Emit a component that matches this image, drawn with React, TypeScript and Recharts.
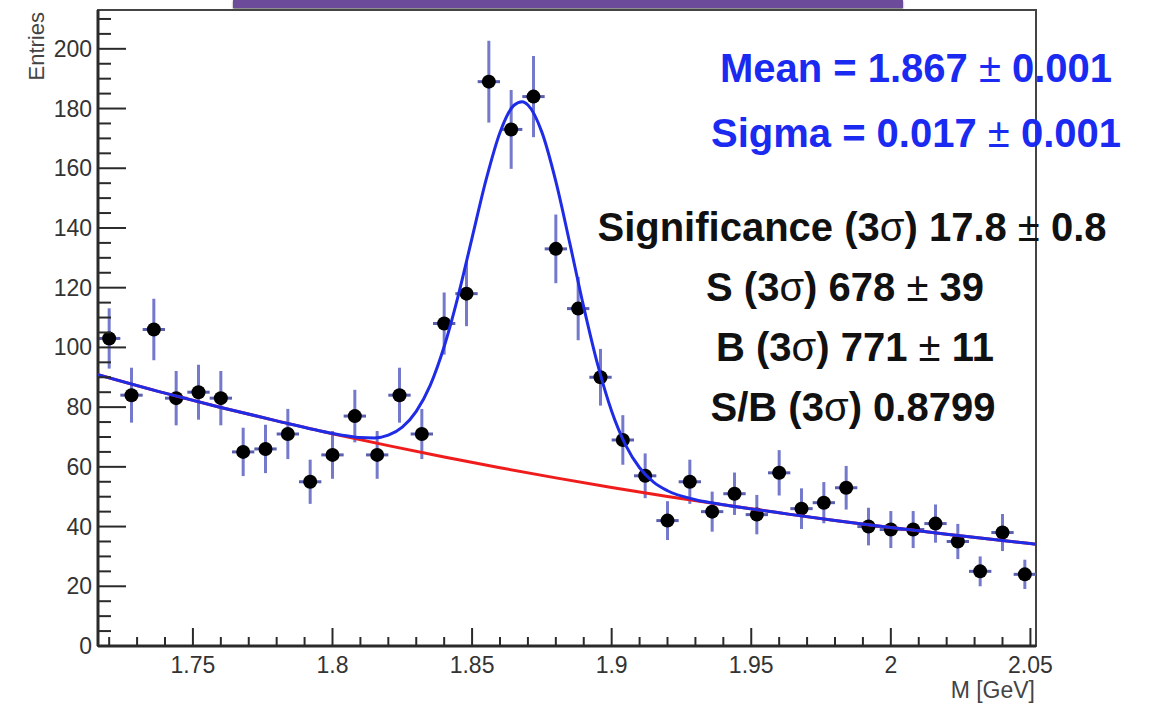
import React from "react"
import { ComposedChart, Scatter, ErrorBar, XAxis, YAxis, ReferenceArea } from "recharts"

// histogram bins (bin centres, GeV) and counts
const massBins = [1.72, 1.728, 1.736, 1.744, 1.752, 1.76, 1.768, 1.776, 1.784, 1.792, 1.8, 1.808, 1.816, 1.824, 1.832, 1.84, 1.848, 1.856, 1.864, 1.872, 1.88, 1.888, 1.896, 1.904, 1.912, 1.92, 1.928, 1.936, 1.944, 1.952, 1.96, 1.968, 1.976, 1.984, 1.992, 2.0, 2.008, 2.016, 2.024, 2.032, 2.04, 2.048]
const entries = [103, 84, 106, 83, 85, 83, 65, 66, 71, 55, 64, 77, 64, 84, 71, 108, 118, 189, 173, 184, 133, 113, 90, 69, 57, 42, 55, 45, 51, 44, 58, 46, 48, 53, 40, 39, 39, 41, 35, 25, 38, 24]
const entryErrors = [10.1, 9.2, 10.3, 9.1, 9.2, 9.1, 8.1, 8.1, 8.4, 7.4, 8.0, 8.8, 8.0, 9.2, 8.4, 10.4, 10.9, 13.7, 13.2, 13.6, 11.5, 10.6, 9.5, 8.3, 7.5, 6.5, 7.4, 6.7, 7.1, 6.6, 7.6, 6.8, 6.9, 7.3, 6.3, 6.2, 6.2, 6.4, 5.9, 5.0, 6.2, 4.9]
const binHalfWidth = 0.004

// total fit (signal + background), blue
const fitMass = [1.716, 1.74, 1.76, 1.78, 1.8, 1.805, 1.81, 1.815, 1.82, 1.825, 1.83, 1.835, 1.84, 1.845, 1.85, 1.855, 1.86, 1.865, 1.868, 1.87, 1.875, 1.88, 1.885, 1.89, 1.895, 1.9, 1.905, 1.91, 1.915, 1.92, 1.93, 1.94, 1.96, 1.98, 2.0, 2.02, 2.04, 2.052]
const fitTotal = [90.9, 84.7, 79.9, 75.4, 71.2, 70.4, 69.8, 69.7, 70.6, 73.3, 78.6, 87.3, 100.3, 117.2, 136.7, 156.1, 172.0, 181.1, 182.3, 181.2, 172.1, 155.6, 134.9, 113.5, 94.2, 78.6, 67.3, 59.7, 54.9, 52.0, 49.0, 47.3, 44.6, 42.0, 39.7, 37.4, 35.3, 34.1]

// background only, red
const bgMass = [1.716, 1.74, 1.76, 1.78, 1.8, 1.82, 1.84, 1.86, 1.88, 1.9, 1.92, 1.94, 1.96, 1.98, 2.0, 2.02, 2.04, 2.052]
const bgFit = [90.9, 84.7, 79.9, 75.4, 71.1, 67.1, 63.3, 59.7, 56.3, 53.1, 50.1, 47.3, 44.6, 42.0, 39.7, 37.4, 35.3, 34.1]

const xTicks = [1.72, 1.73, 1.74, 1.75, 1.76, 1.77, 1.78, 1.79, 1.8, 1.81, 1.82, 1.83, 1.84, 1.85, 1.86, 1.87, 1.88, 1.89, 1.9, 1.91, 1.92, 1.93, 1.94, 1.95, 1.96, 1.97, 1.98, 1.99, 2.0, 2.01, 2.02, 2.03, 2.04, 2.05]
const yTicks = [0, 5, 10, 15, 20, 25, 30, 35, 40, 45, 50, 55, 60, 65, 70, 75, 80, 85, 90, 95, 100, 105, 110, 115, 120, 125, 130, 135, 140, 145, 150, 155, 160, 165, 170, 175, 180, 185, 190, 195, 200, 205, 210]

const X_DOMAIN: [number, number] = [1.716, 2.052]
const Y_DOMAIN: [number, number] = [0, 213]

const points = massBins.map((m, i) => ({ m, n: entries[i], err: entryErrors[i], xerr: binHalfWidth }))
const totalCurve = fitMass.map((m, i) => ({ m, n: fitTotal[i] }))
const bgCurve = bgMass.map((m, i) => ({ m, n: bgFit[i] }))

const FONT = '"Liberation Sans", Arial, Helvetica, sans-serif'
const AXIS = "#2a2a2a"

function XTick(props: any) {
  const { x, y, payload } = props
  const v = payload.value
  const major = Math.abs(v * 20 - Math.round(v * 20)) < 1e-6
  return (
    <g>
      <line x1={x} x2={x} y1={y} y2={y - (major ? 18 : 9)} stroke={AXIS} strokeWidth={2} />
      {major && (
        <text x={x} y={y + 27} textAnchor="middle" fontSize={23} fill="#333" fontFamily={FONT}>
          {String(v)}
        </text>
      )}
    </g>
  )
}

function YTick(props: any) {
  const { x, y, payload } = props
  const v = payload.value
  const major = v % 20 === 0
  return (
    <g>
      <line x1={x} x2={x + (major ? 28 : 13)} y1={y} y2={y} stroke={AXIS} strokeWidth={2} />
      {major && (
        <text x={x - 6} y={y + 8} textAnchor="end" fontSize={23} fill="#333" fontFamily={FONT}>
          {v}
        </text>
      )}
    </g>
  )
}

const Marker = (props: any) => <circle cx={props.cx} cy={props.cy} r={7} fill="#000" />
const NoMarker = () => <g />

export default function App() {
  return (
    <div style={{ position: "fixed", left: 0, top: 0, width: 1154, height: 703, background: "#fff", fontFamily: FONT }}>
      <div style={{ position: "absolute", left: 233, top: 0, width: 670, height: 8, background: "#6c4b9b", boxShadow: "0 1px 2px rgba(0,0,0,0.6)" }} />
      <ComposedChart width={1154} height={703} margin={{ top: 10, right: 118, bottom: 27, left: 38 }}>
        <XAxis
          dataKey="m"
          type="number"
          domain={X_DOMAIN}
          allowDataOverflow
          ticks={xTicks}
          interval={0}
          tickSize={0}
          tickMargin={0}
          tickLine={false}
          tick={<XTick />}
          axisLine={{ stroke: AXIS, strokeWidth: 3 }}
          height={30}
        />
        <YAxis
          dataKey="n"
          type="number"
          domain={Y_DOMAIN}
          allowDataOverflow
          ticks={yTicks}
          interval={0}
          tickSize={0}
          tickMargin={0}
          tickLine={false}
          tick={<YTick />}
          axisLine={{ stroke: AXIS, strokeWidth: 3 }}
          width={60}
        />
        <ReferenceArea x1={X_DOMAIN[0]} x2={X_DOMAIN[1]} y1={Y_DOMAIN[0]} y2={Y_DOMAIN[1]} fill="none" stroke="#444" strokeWidth={2} />
        <Scatter data={points} dataKey="n" shape={Marker} isAnimationActive={false}>
          <ErrorBar dataKey="err" direction="y" width={0} stroke="#7479cc" strokeWidth={3} />
          <ErrorBar dataKey="xerr" direction="x" width={0} stroke="#5a5fb0" strokeWidth={3} />
        </Scatter>
        <Scatter data={bgCurve} dataKey="n" line={{ stroke: "#f01c1c", strokeWidth: 3 }} lineJointType="monotoneX" shape={NoMarker} isAnimationActive={false} />
        <Scatter data={totalCurve} dataKey="n" line={{ stroke: "#1f2ce6", strokeWidth: 3 }} lineJointType="monotoneX" shape={NoMarker} isAnimationActive={false} />
      </ComposedChart>
      <svg width={1154} height={703} style={{ position: "absolute", left: 0, top: 0, pointerEvents: "none" }} fontFamily={FONT}>
        <text x={44} y={12} transform="rotate(-90, 44, 12)" textAnchor="end" fontSize={22} fill="#444">Entries</text>
        <text x={1035} y={698} textAnchor="end" fontSize={23} fill="#444">M [GeV]</text>
        <g fill="#1a2af0" fontSize={40} fontWeight="bold" textAnchor="middle">
          <text x={916} y={82}>Mean = 1.867 <tspan fontWeight="normal">±</tspan> 0.001</text>
          <text x={916} y={147}>Sigma = 0.017 <tspan fontWeight="normal">±</tspan> 0.001</text>
        </g>
        <g fill="#111" fontSize={40} fontWeight="bold" textAnchor="middle">
          <text x={852} y={241}>Significance (3<tspan fontWeight="normal">σ</tspan>) 17.8 <tspan fontWeight="normal">±</tspan> 0.8</text>
          <text x={845} y={301}>S (3<tspan fontWeight="normal">σ</tspan>) 678 <tspan fontWeight="normal">±</tspan> 39</text>
          <text x={855} y={361}>B (3<tspan fontWeight="normal">σ</tspan>) 771 <tspan fontWeight="normal">±</tspan> 11</text>
          <text x={853} y={421}>S/B (3<tspan fontWeight="normal">σ</tspan>) 0.8799</text>
        </g>
      </svg>
    </div>
  )
}
